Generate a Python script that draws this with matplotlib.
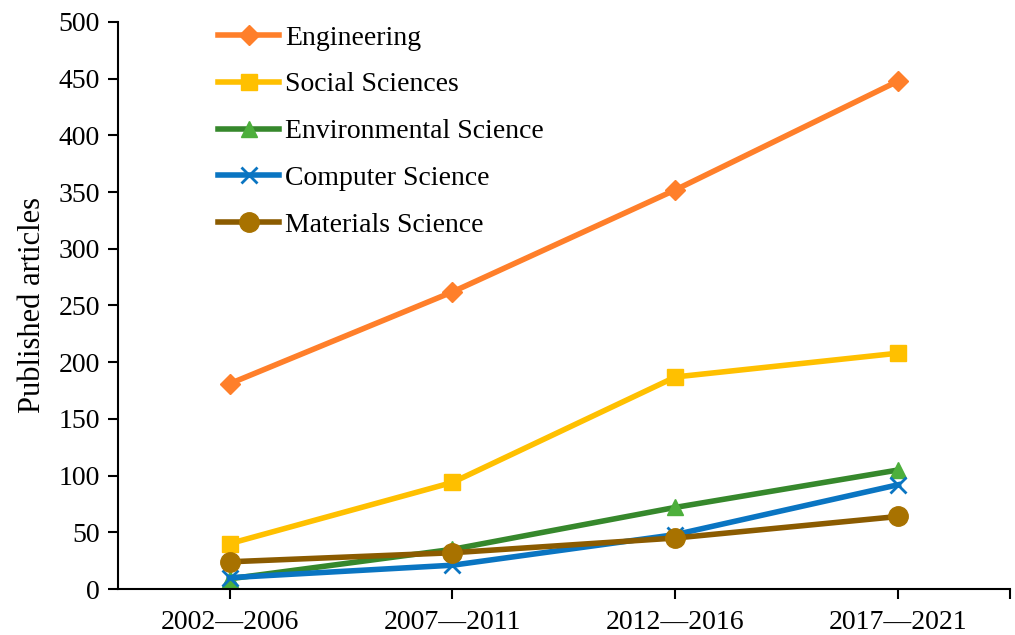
import matplotlib
matplotlib.use("Agg")
import matplotlib.pyplot as plt

periods = ["2002\u20142006", "2007\u20142011", "2012\u20142016", "2017\u20142021"]
engineering = [181, 262, 352, 448]
social = [40, 94, 187, 208]
environmental = [9, 35, 72, 105]
computer = [10, 21, 48, 92]
materials = [24, 32, 45, 64]

plt.rcParams['font.family'] = ['Liberation Serif', 'DejaVu Serif']

fig = plt.figure(figsize=(10.15, 6.35), dpi=100)
ax = fig.add_axes([0.1163, 0.0724, 0.8787, 0.893])

x = list(range(len(periods)))
lw = 4
ax.plot(x, engineering, color='#FF7F2A', lw=lw, marker='D', ms=10, mfc='#FF7F2A', mec='#FF7F2A', label='Engineering')
ax.plot(x, social, color='#FFC000', lw=lw, marker='s', ms=12, mfc='#FFC000', mec='#FFC000', label='Social Sciences')
ax.plot(x, environmental, color='#36882C', lw=lw, marker='^', ms=12, mfc='#4DAF3C', mec='#4DAF3C', label='Environmental Science')
ax.plot(x, computer, color='#0A75C2', lw=lw, marker='x', ms=12, mew=2, mfc='#0A75C2', mec='#0A75C2', label='Computer Science')
ax.plot(x, materials, color='#8B5B00', lw=lw, marker='o', ms=14, mfc='#A87200', mec='#A87200', label='Materials Science')

ax.set_xlim(-0.5, 3.5)
ax.set_ylim(0, 500)
ax.set_yticks(range(0, 501, 50))
ax.set_xticks(x)
ax.set_xticklabels(periods)
ax.set_xticks([3.5], minor=True)
ax.tick_params(axis='x', which='both', direction='out', length=7, width=1.5, labelsize=20, pad=8)
ax.tick_params(axis='y', direction='out', length=7, width=1.5, labelsize=20, pad=6)
for s in ['top', 'right']:
    ax.spines[s].set_visible(False)
for s in ['left', 'bottom']:
    ax.spines[s].set_linewidth(1.5)
ax.set_ylabel('Published articles', fontsize=22, labelpad=8)

ax.legend(loc='upper left', bbox_to_anchor=(0.1, 1.014), frameon=False, fontsize=20,
          handlelength=2.2, handletextpad=0.2, labelspacing=0.77, borderaxespad=0)

fig.savefig('out.png', dpi=100)
